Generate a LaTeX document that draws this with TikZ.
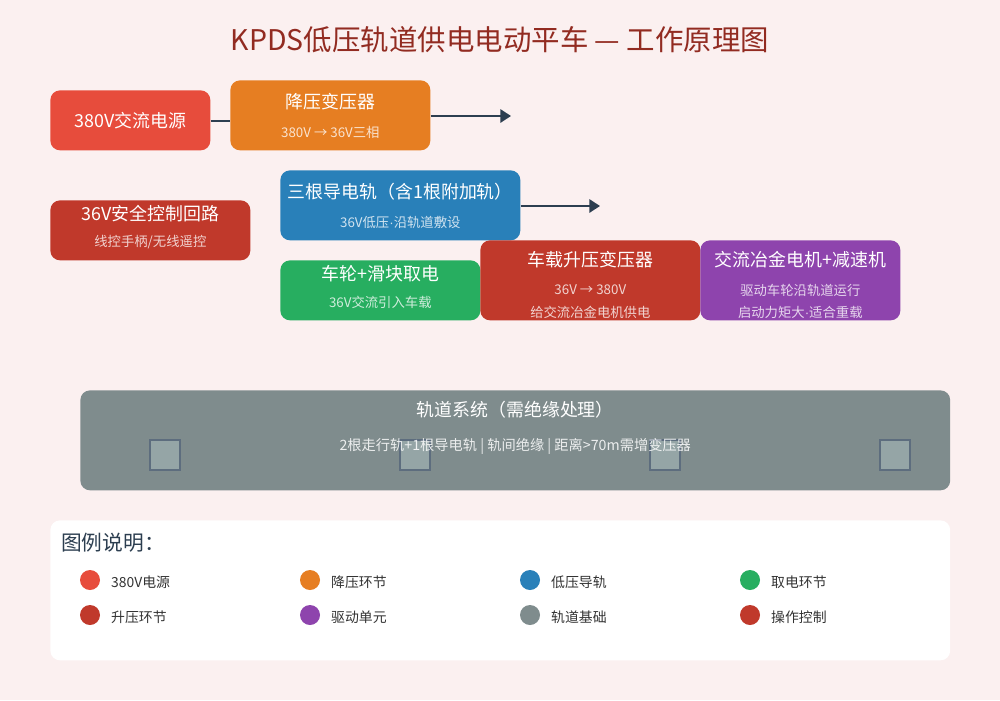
\documentclass[tikz,border=0pt]{standalone}
\usepackage{fontspec}
\setmainfont{Noto Sans CJK SC}
\newfontfamily\latinsans{Liberation Sans}
\usepackage{tikz}
\usetikzlibrary{calc}
\usetikzlibrary{positioning}
\usetikzlibrary{arrows.meta}

\definecolor{bgpink}{HTML}{FBF0F0}
\definecolor{titlered}{HTML}{922B21}
\definecolor{ink}{HTML}{2C3E50}
\definecolor{srcred}{HTML}{E74C3C}
\definecolor{stepor}{HTML}{E67E22}
\definecolor{railblue}{HTML}{2980B9}
\definecolor{pickgreen}{HTML}{27AE60}
\definecolor{boostred}{HTML}{C0392B}
\definecolor{drivepurple}{HTML}{8E44AD}
\definecolor{trackgray}{HTML}{7F8C8D}
\definecolor{sleeper}{HTML}{95A5A6}
\definecolor{sleeperedge}{HTML}{5D6D7E}

\tikzset{
  blk/.style={rectangle,rounded corners=5.5pt,anchor=north west,inner sep=0pt},
  ttl/.style={text=white,font=\fontsize{10.2}{12}\selectfont},
  sub/.style={text=white,text opacity=0.78,font=\fontsize{7.6}{9}\selectfont},
  flow/.style={draw=ink,line width=1.1pt},
  key/.style={anchor=west,text=black!80,font=\fontsize{7.9}{9}\selectfont},
}

\begin{document}
\begin{tikzpicture}[x=0.02cm,y=-0.02cm]
\fill[bgpink] (0,0) rectangle (1000,700);

\node[text=titlered,font=\fontsize{16.2}{19}\selectfont] (title) at (500,40) {KPDS低压轨道供电电动平车 — 工作原理图};

% supply side
\node[blk,fill=srcred,minimum width=3.2cm,minimum height=1.2cm] (src) at (50,90) {};
\node[ttl] (src t) at (src) {380V交流电源};

\node[blk,fill=stepor,minimum width=4cm,minimum height=1.4cm] (step) at (230,80) {};
\node[ttl] (step t) at ($(step.north)+(0,22)$) {降压变压器};
\node[sub] (step s) at ($(step.north)+(0,52)$) {380V → 36V三相};

\coordinate (step out) at (511,116);
\draw[flow] (src.east |- 0,121) -- (step.west |- 0,121);
\draw[flow,-{Triangle[length=6pt,width=7.5pt]}] (step.east |- step out) -- (step out);

\node[blk,fill=boostred,minimum width=4cm,minimum height=1.2cm] (ctrl) at (50,200) {};
\node[ttl] (ctrl t) at ($(ctrl.north)+(0,14)$) {36V安全控制回路};
\node[sub] (ctrl s) at ($(ctrl.north)+(0,42)$) {线控手柄/无线遥控};

% rail and vehicle
\node[blk,fill=railblue,minimum width=4.8cm,minimum height=1.4cm] (rail) at (280,170) {};
\node[ttl] (rail t) at ($(rail.north)+(0,22)$) {三根导电轨（含1根附加轨）};
\node[sub] (rail s) at ($(rail.north)+(0,52)$) {36V低压{\latinsans ·}沿轨道敷设};

\coordinate (rail out) at (600,206);
\draw[flow,-{Triangle[length=6pt,width=7.5pt]}] (rail.east |- rail out) -- (rail out);

\node[blk,fill=pickgreen,minimum width=4cm,minimum height=1.2cm] (pick) at (280,260) {};
\node[ttl] (pick t) at ($(pick.north)+(0,14)$) {车轮+滑块取电};
\node[sub] (pick s) at ($(pick.north)+(0,42)$) {36V交流引入车载};

\node[blk,fill=boostred,minimum width=4.4cm,minimum height=1.6cm] (boost) at (480,240) {};
\node[ttl] (boost t) at ($(boost.north)+(0,20)$) {车载升压变压器};
\node[sub] (boost s) at ($(boost.north)+(0,50)$) {36V → 380V};
\node[sub] (boost s2) at ($(boost.north)+(0,72)$) {给交流冶金电机供电};

\node[blk,fill=drivepurple,minimum width=4cm,minimum height=1.6cm] (motor) at (700,240) {};
\node[ttl] (motor t) at ($(motor.north)+(0,20)$) {交流冶金电机+减速机};
\node[sub] (motor s) at ($(motor.north)+(0,50)$) {驱动车轮沿轨道运行};
\node[sub] (motor s2) at ($(motor.north)+(0,72)$) {启动力矩大{\latinsans ·}适合重载};

% track bed
\node[blk,fill=trackgray,minimum width=17.4cm,minimum height=2cm] (track) at (80,390) {};
\node[ttl] (track t) at ($(track.north)+(0,20)$) {轨道系统（需绝缘处理）};
\foreach \x in {150,400,650,880}
  \draw[fill=sleeper,draw=sleeperedge,line width=1pt] (\x,440) rectangle +(30,30);
\node[sub,text opacity=0.85,font=\fontsize{8.1}{9}\selectfont] (track s) at ($(track.north)+(0,56)$) {2根走行轨+1根导电轨 | 轨间绝缘 | 距离>70m需增变压器};

% legend
\node[blk,fill=white,minimum width=18cm,minimum height=2.8cm] (legend) at (50,520) {};
\node[anchor=west,text=ink,font=\fontsize{11.8}{14}\selectfont] (legend t) at (55,543) {图例说明：};
\foreach \x/\c/\t in {90/srcred/380V电源,310/stepor/降压环节,530/railblue/低压导轨,750/pickgreen/取电环节}{
  \fill[\c] (\x,580) circle[radius=10];
  \node[key] at (\x+15,582) {\t};
}
\foreach \x/\c/\t in {90/boostred/升压环节,310/drivepurple/驱动单元,530/trackgray/轨道基础,750/boostred/操作控制}{
  \fill[\c] (\x,615) circle[radius=10];
  \node[key] at (\x+15,617) {\t};
}
\end{tikzpicture}
\end{document}
